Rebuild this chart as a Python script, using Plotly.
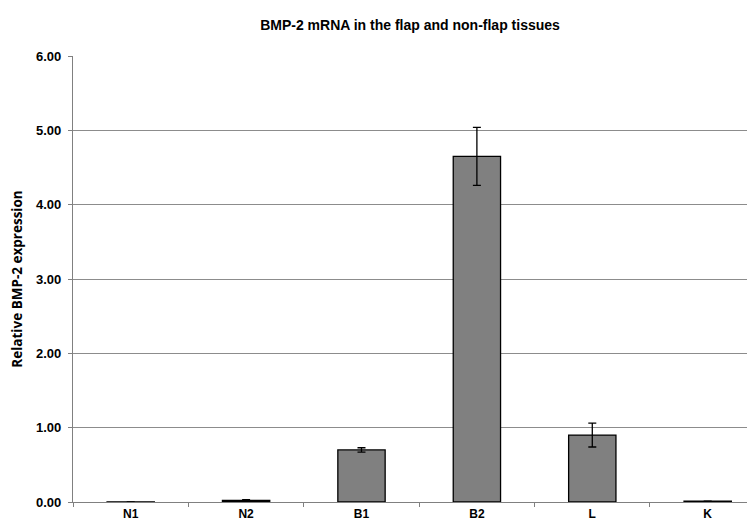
import plotly.graph_objects as go

categories = ["N1", "N2", "B1", "B2", "L", "K"]
values = [0.003, 0.02, 0.70, 4.65, 0.90, 0.01]
errors = [0.0, 0.01, 0.03, 0.39, 0.16, 0.0]
y_ticks = [0, 1, 2, 3, 4, 5, 6]
y_tick_labels = ["0.00", "1.00", "2.00", "3.00", "4.00", "5.00", "6.00"]

font = "Liberation Sans, Arial, sans-serif"
title_font = "Open Sans, Noto Sans, sans-serif"

W, H = 747, 515

fig = go.Figure(go.Bar(
    x=categories, y=values,
    marker=dict(color="#808080", line=dict(color="#000000", width=1.3)),
    error_y=dict(type="data", array=errors, visible=True, color="#000000",
                 thickness=1.3, width=4),
))

fig.update_layout(
    width=W, height=H,
    margin=dict(l=65, r=0, t=48, b=21),
    paper_bgcolor="white", plot_bgcolor="white",
    bargap=0.59,
    showlegend=False,
    title=dict(text="<b>BMP-2 mRNA in the flap and non-flap tissues</b>",
               xref="container", x=402 / W, xanchor="center",
               yref="container", y=1 - 17 / H, yanchor="middle",
               font=dict(family=font, size=14, color="#000")),
    font=dict(family=font, color="#000"),
)
fig.update_xaxes(
    range=[-0.5, 5.41],
    showline=True, linecolor="#808080", linewidth=1.3,
    ticks="outside", tickson="boundaries", ticklen=4, tickcolor="#808080",
    tickfont=dict(family=font, size=12, color="#000"),
    tickprefix="<b>", ticksuffix="</b>",
    showgrid=False,
)
fig.update_yaxes(
    range=[0, 6],
    tickvals=y_ticks, ticktext=["<b>%s</b>" % t for t in y_tick_labels],
    showline=True, linecolor="#808080", linewidth=1.3,
    ticks="outside", ticklen=4, tickcolor="#808080",
    ticklabelstandoff=4,
    tickfont=dict(family=font, size=13, color="#000"),
    showgrid=True, gridcolor="#8c8c8c", gridwidth=1,
    zeroline=False,
    title=dict(text="<b>Relative BMP-2 expression</b>",
               font=dict(family=title_font, size=13.5, color="#000"), standoff=10),
)

fig.write_html("out.html")
